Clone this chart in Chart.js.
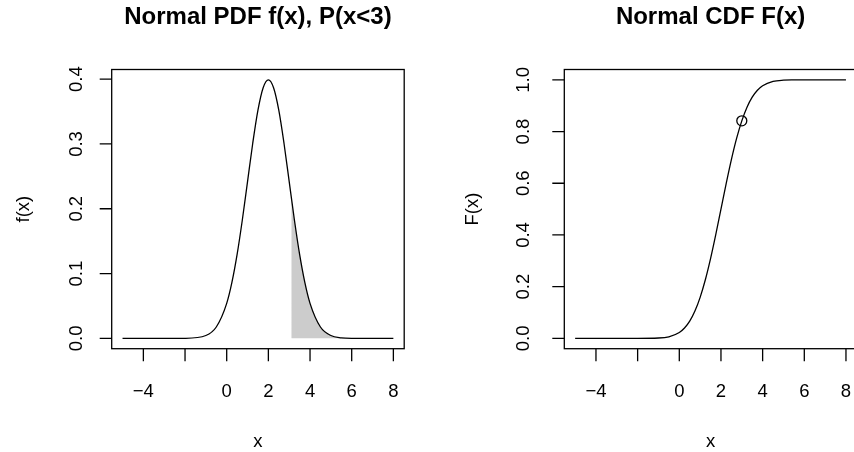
<!DOCTYPE html>
<html>
<head>
<meta charset="utf-8">
<script src="https://cdn.jsdelivr.net/npm/chart.js@4.4.1/dist/chart.umd.min.js"></script>
<style>
  html, body { margin: 0; padding: 0; background: #fff; }
  #page { position: relative; width: 854px; height: 452px; overflow: hidden; }
  #page canvas { position: absolute; top: 0; }
</style>
</head>
<body>
<div id="page">
  <canvas id="pdfChart" width="427" height="452" style="left:0"></canvas>
  <canvas id="cdfChart" width="440" height="452" style="left:427px"></canvas>
</div>
<script>
// normal curve, mean 2, sd 1, sampled along x
const xGrid = [-5, -4, -3, -2, -1, -0.5, 0, 0.25, 0.5, 0.75, 1, 1.25, 1.5, 1.75, 2,
  2.25, 2.5, 2.75, 3, 3.25, 3.5, 3.75, 4, 4.5, 5, 5.5, 6, 7, 8];
const pdfValues = [0, 0, 0, 0.0001, 0.0044, 0.0175, 0.0540, 0.0863, 0.1295, 0.1826, 0.2420,
  0.3011, 0.3521, 0.3867, 0.3989, 0.3867, 0.3521, 0.3011, 0.2420, 0.1826, 0.1295, 0.0863,
  0.0540, 0.0175, 0.0044, 0.0009, 0.0001, 0, 0];
const cdfValues = [0, 0, 0, 0, 0.0013, 0.0062, 0.0228, 0.0401, 0.0668, 0.1056, 0.1587,
  0.2266, 0.3085, 0.4013, 0.5, 0.5987, 0.6915, 0.7734, 0.8413, 0.8944, 0.9332, 0.9599,
  0.9772, 0.9938, 0.9987, 0.9998, 1, 1, 1];

// shaded tail under the density
const shadeX = [3.1, 3.25, 3.5, 3.75, 4, 4.5, 5, 5.5, 6, 7, 8];
const shadeY = [0.2179, 0.1826, 0.1295, 0.0863, 0.0540, 0.0175, 0.0044, 0.0009, 0.0001, 0, 0];

// marked point on the cdf
const markX = [3];
const markY = [0.8413];

const xTicks = [-4, -2, 0, 2, 4, 6, 8];
const xTickLabels = ['\u22124', '', '0', '2', '4', '6', '8'];
const pdfTicks = [0, 0.1, 0.2, 0.3, 0.4];
const pdfTickLabels = ['0.0', '0.1', '0.2', '0.3', '0.4'];
const cdfTicks = [0, 0.2, 0.4, 0.6, 0.8, 1];
const cdfTickLabels = ['0.0', '0.2', '0.4', '0.6', '0.8', '1.0'];

const FONT = '"Liberation Sans", Arial, Helvetica, sans-serif';

function pts(xs, ys) {
  return xs.map((x, i) => ({ x: x, y: ys[i] }));
}

// R style frame, axes and labels drawn from the chart's scales
function baseAxes(cfg) {
  return {
    id: 'baseAxes',
    afterDraw(chart) {
      const ctx = chart.ctx;
      const a = chart.chartArea;
      const sx = chart.scales.x;
      const sy = chart.scales.y;
      ctx.save();
      ctx.strokeStyle = '#000';
      ctx.fillStyle = '#000';
      ctx.lineWidth = 1.3;
      ctx.strokeRect(a.left, a.top, a.right - a.left, a.bottom - a.top);

      // x axis
      ctx.beginPath();
      xTicks.forEach(t => {
        const px = sx.getPixelForValue(t);
        ctx.moveTo(px, a.bottom);
        ctx.lineTo(px, a.bottom + 12.5);
      });
      ctx.stroke();
      ctx.font = '18.5px ' + FONT;
      ctx.textAlign = 'center';
      ctx.textBaseline = 'alphabetic';
      xTicks.forEach((t, i) => {
        if (xTickLabels[i]) ctx.fillText(xTickLabels[i], sx.getPixelForValue(t), 396.7);
      });
      const midX = (a.left + a.right) / 2;
      ctx.fillText('x', midX, 446.5);

      // y axis
      ctx.beginPath();
      cfg.yTicks.forEach(t => {
        const py = sy.getPixelForValue(t);
        ctx.moveTo(a.left, py);
        ctx.lineTo(a.left - 12, py);
      });
      ctx.stroke();
      cfg.yTicks.forEach((t, i) => {
        ctx.save();
        ctx.translate(a.left - cfg.tickGap, sy.getPixelForValue(t));
        ctx.rotate(-Math.PI / 2);
        ctx.fillText(cfg.yTickLabels[i], 0, 0);
        ctx.restore();
      });
      ctx.save();
      ctx.translate(a.left - cfg.titleGap, (a.top + a.bottom) / 2);
      ctx.rotate(-Math.PI / 2);
      ctx.fillText(cfg.yTitle, 0, 0);
      ctx.restore();

      // main title
      ctx.font = 'bold 24px ' + FONT;
      ctx.fillText(cfg.title, midX, 23.5);
      ctx.restore();
    }
  };
}

function makeChart(id, datasets, yMin, yMax, padding, cfg) {
  return new Chart(document.getElementById(id), {
    type: 'line',
    data: { datasets: datasets },
    options: {
      responsive: false,
      animation: false,
      events: [],
      layout: { padding: padding },
      scales: {
        x: { type: 'linear', min: -5.52, max: 8.52, display: false },
        y: { type: 'linear', min: yMin, max: yMax, display: false }
      },
      plugins: { legend: { display: false }, tooltip: { enabled: false } }
    },
    plugins: [baseAxes(cfg)]
  });
}

const lineStyle = {
  borderColor: '#000',
  borderWidth: 1.3,
  pointRadius: 0,
  cubicInterpolationMode: 'monotone',
  fill: false
};

makeChart('pdfChart', [
  Object.assign({ data: pts(xGrid, pdfValues) }, lineStyle),
  {
    data: pts(shadeX, shadeY),
    borderWidth: 0,
    pointRadius: 0,
    cubicInterpolationMode: 'monotone',
    backgroundColor: '#cccccc',
    fill: 'origin'
  }
], -0.01596, 0.4149, { left: 111.7, right: 22.8, top: 69.5, bottom: 103.3 }, {
  title: 'Normal PDF f(x), P(x<3)',
  yTitle: 'f(x)',
  yTicks: pdfTicks,
  yTickLabels: pdfTickLabels,
  tickGap: 30,
  titleGap: 82.7
});

makeChart('cdfChart', [
  Object.assign({ data: pts(xGrid, cdfValues) }, lineStyle),
  {
    data: pts(markX, markY),
    showLine: false,
    pointRadius: 5,
    pointStyle: 'circle',
    pointBackgroundColor: 'rgba(0,0,0,0)',
    pointBorderColor: '#000',
    pointBorderWidth: 1.3
  }
], -0.04, 1.04, { left: 137.3, right: 10.2, top: 69.5, bottom: 103.3 }, {
  title: 'Normal CDF F(x)',
  yTitle: 'F(x)',
  yTicks: cdfTicks,
  yTickLabels: cdfTickLabels,
  tickGap: 35,
  titleGap: 86.3
});
</script>
</body>
</html>
